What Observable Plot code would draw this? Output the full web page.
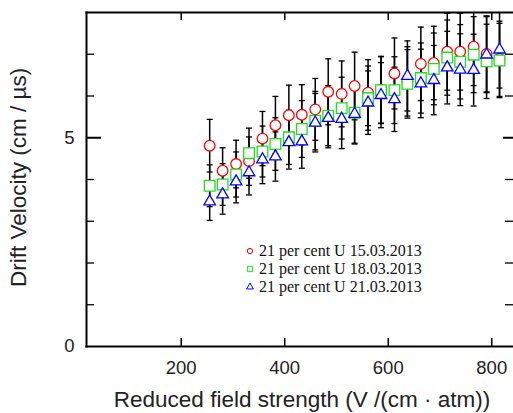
<!DOCTYPE html>
<html><head><meta charset="utf-8">
<script src="https://cdn.jsdelivr.net/npm/d3@7"></script>
<script src="https://cdn.jsdelivr.net/npm/@observablehq/plot@0.6"></script>
<style>
body{margin:0;background:#fff;}
#wrap{position:relative;width:513px;height:413px;overflow:hidden;background:#fff;}
#legend{position:absolute;left:244px;top:242px;font-family:"Liberation Serif","Times New Roman",serif;font-size:16px;color:#111;}
#legend .row{display:flex;align-items:center;height:18px;white-space:nowrap;}
#legend svg{margin-right:3px;}
</style></head><body><div id="wrap"></div>
<script>
// Reduced field strength (V/(cm·atm))
const fieldStrength = [255, 280, 306, 331, 357, 382, 408, 433, 459, 484, 510, 535, 561, 586, 612, 637, 663, 688, 714, 739, 765, 790, 815];
// Drift velocity (cm/µs) and errors, 15.03.2013
const velocity15 = [4.81, 4.21, 4.37, 4.44, 4.98, 5.30, 5.54, 5.55, 5.68, 6.10, 6.05, 6.24, 6.08, 6.15, 6.54, 6.35, 6.77, 6.79, 7.06, 7.06, 7.18, 7.01, 6.89];
const error15    = [0.63, 0.55, 0.57, 0.58, 0.65, 0.69, 0.72, 0.72, 0.74, 0.79, 0.79, 0.81, 0.79, 0.80, 0.85, 0.83, 0.88, 0.88, 0.92, 0.92, 0.93, 0.91, 0.90];
// 18.03.2013
const velocity18 = [3.85, 3.88, 4.12, 4.63, 4.67, 4.85, 5.01, 5.21, 5.41, 5.53, 5.71, 5.60, 5.95, 6.14, 6.14, 6.29, 6.43, 6.65, 6.92, 6.82, 6.99, 6.83, 6.85];
const error18    = [0.50, 0.50, 0.54, 0.60, 0.61, 0.63, 0.65, 0.68, 0.70, 0.72, 0.74, 0.73, 0.77, 0.80, 0.80, 0.82, 0.84, 0.86, 0.90, 0.89, 0.91, 0.89, 0.89];
// 21.03.2013
const velocity21 = [3.47, 3.64, 3.95, 4.17, 4.48, 4.55, 4.89, 4.91, 5.36, 5.47, 5.45, 5.57, 5.84, 6.02, 5.92, 6.48, 6.30, 6.38, 6.68, 6.63, 6.62, 6.99, 7.11];
const error21    = [0.45, 0.47, 0.51, 0.54, 0.58, 0.59, 0.64, 0.64, 0.70, 0.71, 0.71, 0.72, 0.76, 0.78, 0.77, 0.84, 0.82, 0.83, 0.87, 0.86, 0.86, 0.91, 0.92];

const seriesNames = ["21 per cent U 15.03.2013", "21 per cent U 18.03.2013", "21 per cent U 21.03.2013"];
const seriesColors = ["#ff0000", "#22dd22", "#0000ff"];
const seriesSymbols = ["circle", "square", "triangle"];

const xTicks = [200, 400, 600, 800];
const yMinorTicks = [1, 2, 3, 4, 6, 7];
const yMajorTicks = [5];
const yTickLabels = [0, 5];
const xTitle = "Reduced field strength (V /(cm · atm))";
const yTitle = "Drift Velocity (cm / µs)";

const allV = [velocity15, velocity18, velocity21];
const allE = [error15, error18, error21];
const series = allV.map((vals, s) => vals.map((v, i) => ({x: fieldStrength[i], v, e: allE[s][i], s})));
const rows = series.flat();

const W = 513, H = 413, mL = 86, mR = 0, mT = 12, mB = 67;
const pw = W - mL - mR, ph = H - mT - mB;

const capSymbol = {draw(ctx) { ctx.moveTo(-3, 0); ctx.lineTo(3, 0); }};
const symbolR = [5.3, 6.0, 4.3];

const chart = Plot.plot({
  width: W, height: H,
  marginLeft: mL, marginRight: mR, marginTop: mT, marginBottom: mB,
  x: {domain: [17, 842], axis: null},
  y: {domain: [0, 8], axis: null},
  style: {fontFamily: "'Liberation Sans', Arial, Helvetica, sans-serif", background: "white", overflow: "visible"},
  marks: [
    // error bars
    Plot.ruleX(rows, {x: "x", y1: d => d.v - d.e, y2: d => d.v + d.e, stroke: "black", strokeWidth: 1.5, clip: true}),
    Plot.dot(rows, {x: "x", y: d => d.v - d.e, symbol: capSymbol, stroke: "black", strokeWidth: 1.3, clip: true}),
    Plot.dot(rows, {x: "x", y: d => d.v + d.e, symbol: capSymbol, stroke: "black", strokeWidth: 1.3, clip: true}),
    // markers
    ...series.map((data, s) => Plot.dot(data, {x: "x", y: "v", symbol: seriesSymbols[s], r: symbolR[s], stroke: seriesColors[s], fill: "white", strokeWidth: 1.3})),
    // frame (left, top, bottom)
    Plot.frame({anchor: "left", strokeWidth: 2, stroke: "black"}),
    Plot.frame({anchor: "top", strokeWidth: 2, stroke: "black"}),
    Plot.frame({anchor: "bottom", strokeWidth: 2, stroke: "black"}),
    // inward ticks
    Plot.tickX(xTicks, {x: d => d, insetTop: ph - 8, strokeWidth: 1.5}),
    Plot.tickX(xTicks, {x: d => d, insetBottom: ph - 8, strokeWidth: 1.5}),
    Plot.tickY(yMinorTicks, {y: d => d, insetRight: pw - 8, strokeWidth: 1.3}),
    Plot.tickY(yMajorTicks, {y: d => d, insetRight: pw - 15, strokeWidth: 2}),
    Plot.tickY(yMinorTicks, {y: d => d, insetLeft: pw - 8, strokeWidth: 1.3}),
    Plot.tickY(yMajorTicks, {y: d => d, insetLeft: pw - 10, strokeWidth: 2}),
    // tick labels
    Plot.axisX(xTicks, {anchor: "bottom", tickSize: 0, tickPadding: 14, fontSize: 18.5, fill: "#222", label: null}),
    Plot.axisY(yTickLabels, {anchor: "left", tickSize: 0, tickPadding: 12, fontSize: 18.5, fill: "#222", label: null}),
    // titles
    Plot.text([xTitle], {text: d => d, frameAnchor: "bottom", dx: 2, dy: 53, textAnchor: "middle", lineAnchor: "middle", fontSize: 22.5, fill: "#222"}),
    Plot.text([yTitle], {text: d => d, frameAnchor: "left", dx: -68, dy: -2, rotate: -90, textAnchor: "middle", lineAnchor: "middle", fontSize: 22.5, fill: "#222"})
  ]
});

const wrap = document.getElementById("wrap");
wrap.appendChild(chart);

// legend overlay
const legend = document.createElement("div");
legend.id = "legend";
seriesNames.forEach((name, s) => {
  const row = document.createElement("div");
  row.className = "row";
  const icon = d3.create("svg").attr("width", 12).attr("height", 12);
  icon.append("path")
    .attr("transform", "translate(6,6)")
    .attr("d", d3.symbol(s === 0 ? d3.symbolCircle : s === 1 ? d3.symbolSquare : d3.symbolTriangle, s === 0 ? 22 : s === 1 ? 28 : 20)())
    .attr("fill", "none").attr("stroke", seriesColors[s]).attr("stroke-width", 1);
  row.appendChild(icon.node());
  const t = document.createElement("span");
  t.textContent = name;
  row.appendChild(t);
  legend.appendChild(row);
});
wrap.appendChild(legend);
</script>
</body></html>
